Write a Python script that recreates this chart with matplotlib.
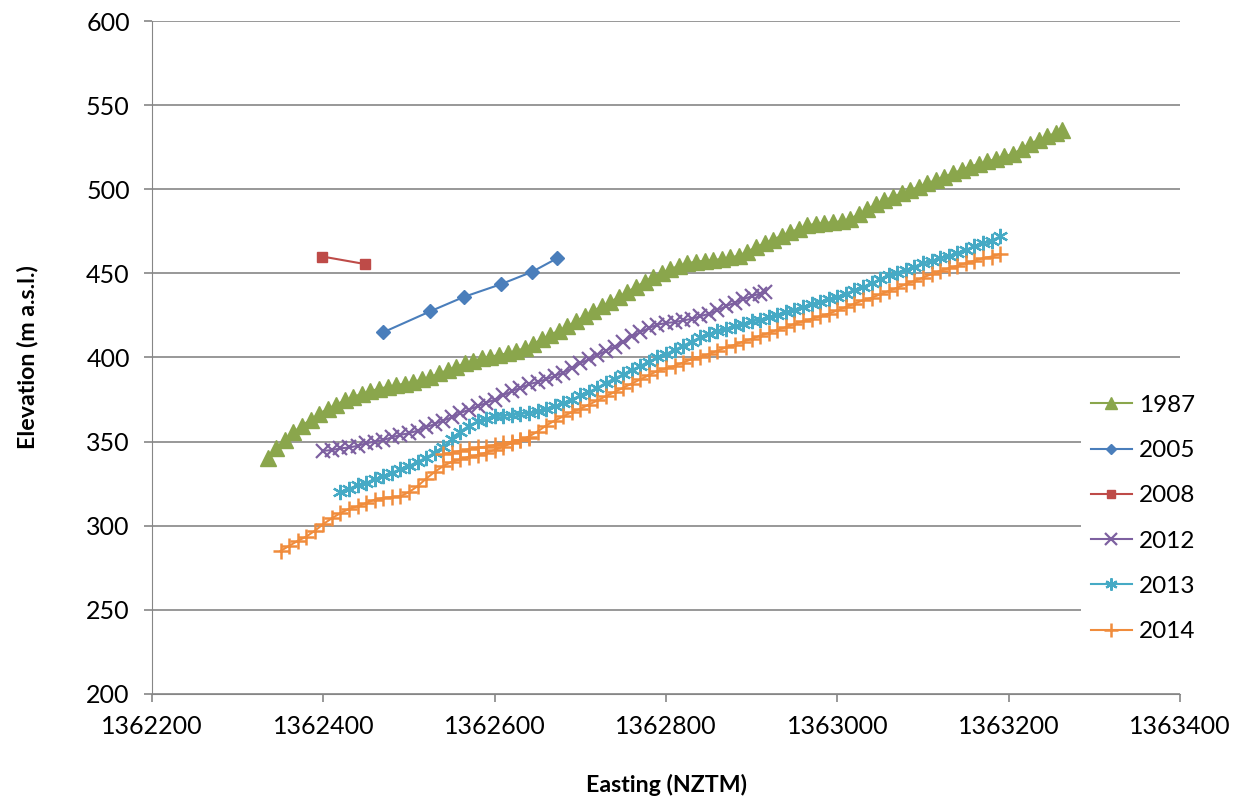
import numpy as np
import matplotlib
matplotlib.use("Agg")
import matplotlib.pyplot as plt

plt.rcParams['font.family'] = ['Lato', 'DejaVu Sans']

# 1987 survey
x_1987 = [1362335, 1362345, 1362355, 1362365, 1362375, 1362385, 1362395, 1362405, 1362415, 1362425,
          1362435, 1362445, 1362455, 1362465, 1362475, 1362485, 1362495, 1362505, 1362515, 1362525,
          1362535, 1362545, 1362555, 1362565, 1362575, 1362585, 1362595, 1362605, 1362615, 1362625,
          1362635, 1362645, 1362655, 1362665, 1362675, 1362685, 1362695, 1362705, 1362715, 1362725,
          1362735, 1362745, 1362755, 1362765, 1362775, 1362785, 1362795, 1362805, 1362815, 1362825,
          1362835, 1362845, 1362855, 1362865, 1362875, 1362885, 1362895, 1362905, 1362915, 1362925,
          1362935, 1362945, 1362955, 1362965, 1362975, 1362985, 1362995, 1363005, 1363015, 1363025,
          1363035, 1363045, 1363055, 1363065, 1363075, 1363085, 1363095, 1363105, 1363115, 1363125,
          1363135, 1363145, 1363155, 1363165, 1363175, 1363185, 1363195, 1363205, 1363215, 1363225,
          1363235, 1363245, 1363255, 1363262]
y_1987 = [340, 346, 351, 355.5, 359.5, 363, 366.5, 369.5, 372, 374.5,
          376.5, 378.5, 380, 381.5, 382.5, 383.5, 384.5, 385.5, 387, 388.5,
          390.5, 392.5, 394.5, 396.5, 398, 399.5, 400.5, 401.5, 402.5, 404,
          405.5, 408, 411, 413.5, 416, 418.5, 421.5, 424.5, 427.5, 430.5,
          433, 436, 439, 442, 445, 448, 450.5, 452.5, 454.5, 456,
          457, 457.5, 458, 458.5, 459.5, 460.5, 463, 465.5, 468, 470,
          472.5, 474.5, 476.5, 478.5, 479.5, 480, 480.5, 481, 482.5, 485,
          488, 491, 493.5, 495.5, 497.5, 499.5, 501.5, 503.5, 505.5, 507.5,
          509.5, 511.5, 513.5, 515, 516.5, 518, 519.5, 521, 524, 527,
          529.5, 531.5, 533.5, 535]

# 2005 and 2008, only a few points
x_2005 = [1362470, 1362525, 1362564, 1362607, 1362644, 1362673]
y_2005 = [415, 427.5, 436, 443.5, 451, 459]
x_2008 = [1362399, 1362449]
y_2008 = [460, 455.5]

# 2012
x_2012 = [1362400, 1362410, 1362420, 1362430, 1362440, 1362450, 1362460, 1362470, 1362480, 1362490,
          1362500, 1362510, 1362520, 1362530, 1362540, 1362550, 1362560, 1362570, 1362580, 1362590,
          1362600, 1362610, 1362620, 1362630, 1362640, 1362650, 1362660, 1362670, 1362680, 1362690,
          1362700, 1362710, 1362720, 1362730, 1362740, 1362750, 1362760, 1362770, 1362780, 1362790,
          1362800, 1362810, 1362820, 1362830, 1362840, 1362850, 1362860, 1362870, 1362880, 1362890,
          1362900, 1362910, 1362915]
y_2012 = [344.5, 345, 346, 346.5, 347.5, 349, 350, 351, 352.5, 354,
          355, 356.5, 358.5, 360.5, 362.5, 364.5, 367, 369, 371, 373,
          375, 377.5, 380, 382, 384, 385.5, 387, 389, 391, 393.5,
          396.5, 399, 401.5, 404, 406.5, 409.5, 412.5, 415, 417.5, 419.5,
          420.5, 421, 422, 423, 424.5, 426, 428, 430.5, 432.5, 434.5,
          436.5, 438, 439]

# 2013
x_2013 = [1362420, 1362430, 1362440, 1362450, 1362460, 1362470, 1362480, 1362490, 1362500, 1362510,
          1362520, 1362530, 1362540, 1362550, 1362560, 1362570, 1362580, 1362590, 1362600, 1362610,
          1362620, 1362630, 1362640, 1362650, 1362660, 1362670, 1362680, 1362690, 1362700, 1362710,
          1362720, 1362730, 1362740, 1362750, 1362760, 1362770, 1362780, 1362790, 1362800, 1362810,
          1362820, 1362830, 1362840, 1362850, 1362860, 1362870, 1362880, 1362890, 1362900, 1362910,
          1362920, 1362930, 1362940, 1362950, 1362960, 1362970, 1362980, 1362990, 1363000, 1363010,
          1363020, 1363030, 1363040, 1363050, 1363060, 1363070, 1363080, 1363090, 1363100, 1363110,
          1363120, 1363130, 1363140, 1363150, 1363160, 1363170, 1363180, 1363190]
y_2013 = [320, 322, 324, 325.5, 327.5, 329.5, 331.5, 333.5, 335.5, 338,
          340.5, 343.5, 347, 351.5, 356, 359.5, 362, 363.5, 365, 365.5,
          366, 366.5, 367, 368, 369.5, 371, 373, 375, 377.5, 379.5,
          382, 385, 387.5, 390, 392.5, 395, 397.5, 400, 402, 404.5,
          407, 409.5, 412, 414, 415.5, 417, 418.5, 420, 421.5, 422.5,
          424, 425.5, 427, 428.5, 430, 431.5, 433, 434.5, 436, 438,
          440, 442, 444, 446.5, 449, 450.5, 452, 454, 456, 457.5,
          459, 460.5, 462, 464, 466, 468, 469.5, 472]

# 2014 (main profile, then a short repeated stretch after the gap)
x_2014 = [1362350, 1362360, 1362370, 1362380, 1362390, 1362400, 1362410, 1362420, 1362430, 1362440,
          1362450, 1362460, 1362470, 1362480, 1362490, 1362500, 1362510, 1362520, 1362530, 1362540,
          1362550, 1362560, 1362570, 1362580, 1362590, 1362600, 1362610, 1362620, 1362630, 1362640,
          1362650, 1362660, 1362670, 1362680, 1362690, 1362700, 1362710, 1362720, 1362730, 1362740,
          1362750, 1362760, 1362770, 1362780, 1362790, 1362800, 1362810, 1362820, 1362830, 1362840,
          1362850, 1362860, 1362870, 1362880, 1362890, 1362900, 1362910, 1362920, 1362930, 1362940,
          1362950, 1362960, 1362970, 1362980, 1362990, 1363000, 1363010, 1363020, 1363030, 1363040,
          1363050, 1363060, 1363070, 1363080, 1363090, 1363100, 1363110, 1363120, 1363130, 1363140,
          1363150, 1363160, 1363170, 1363180, 1363190,
          np.nan,
          1362540, 1362550, 1362560, 1362570, 1362580, 1362590, 1362600, 1362610, 1362620, 1362630,
          1362640]
y_2014 = [285, 288, 291, 293.5, 297, 301, 304.5, 307.5, 310, 311.5,
          313.5, 315.5, 316.5, 317, 317.5, 320, 323.5, 328, 332, 335.5,
          338, 339.5, 341, 342, 343.5, 345, 347, 349, 351, 353,
          356, 359.5, 362.5, 365, 367.5, 369.5, 372, 374.5, 377, 379.5,
          382, 384.5, 387, 389.5, 392, 393.5, 395, 397, 399, 400.5,
          402, 404, 406, 407.5, 409.5, 411, 413, 414.5, 416.5, 418,
          420, 421.5, 423, 424.5, 426, 428, 430, 432, 434, 435.5,
          437.5, 439.5, 441.5, 443.5, 445.5, 447.5, 449.5, 451.5, 453, 454.5,
          456, 457.5, 459, 460, 461.5,
          np.nan,
          342.5, 343.5, 344.5, 345.5, 346.5, 347, 348, 349, 350, 351,
          352]

fig = plt.figure(figsize=(12.33, 8.02), dpi=100)
ax = fig.add_axes([0.1233, 0.1347, 0.8337, 0.8391])

grey = '#868686'
ax.plot(x_1987, y_1987, color='#8AA64C', lw=1.5, marker='^', ms=11, mec='#8AA64C', label='1987')
ax.plot(x_2005, y_2005, color='#4A7EBB', lw=1.5, marker='D', ms=7, label='2005')
ax.plot(x_2008, y_2008, color='#BE4B48', lw=1.5, marker='s', ms=7, label='2008')
ax.plot(x_2012, y_2012, color='#7D60A0', lw=1.5, marker='x', ms=10, mew=1.6, label='2012')
ax.plot(x_2013, y_2013, color='#46AAC5', lw=1.5, marker=(6, 2, 0), ms=11, mew=1.6, label='2013')
ax.plot(x_2014, y_2014, color='#F08C3C', lw=1.5, marker='+', ms=12, mew=1.8, label='2014')

ax.set_xlim(1362200, 1363400)
ax.set_ylim(200, 600)
ax.set_xticks(range(1362200, 1363401, 200))
ax.set_yticks(range(200, 601, 50))
ax.ticklabel_format(useOffset=False, style='plain')
ax.yaxis.grid(True, color=grey, lw=1.2)
ax.set_axisbelow(True)

for s in ['top', 'right']:
    ax.spines[s].set_visible(False)
for s in ['left', 'bottom']:
    ax.spines[s].set_color(grey)
ax.tick_params(direction='out', length=6, width=1.2, color=grey, labelsize=18)
ax.tick_params(axis='x', pad=9)
ax.tick_params(axis='y', pad=10)

ax.set_xlabel('Easting (NZTM)', fontsize=16.7, fontweight='bold', labelpad=26)
ax.set_ylabel('Elevation (m a.s.l.)', fontsize=16.7, fontweight='bold', labelpad=34)

# legend sits over the right end of the plot, white box hides the grid
leg = ax.legend(loc='upper left', bbox_to_anchor=(0.8767, 0.520), bbox_transform=fig.transFigure,
                fontsize=17.5, frameon=True, facecolor='white', edgecolor='none', framealpha=1,
                handlelength=1.7, handletextpad=0.3, labelspacing=1.0, borderaxespad=0,
                markerscale=0.8)

fig.savefig('out.png', dpi=100)
